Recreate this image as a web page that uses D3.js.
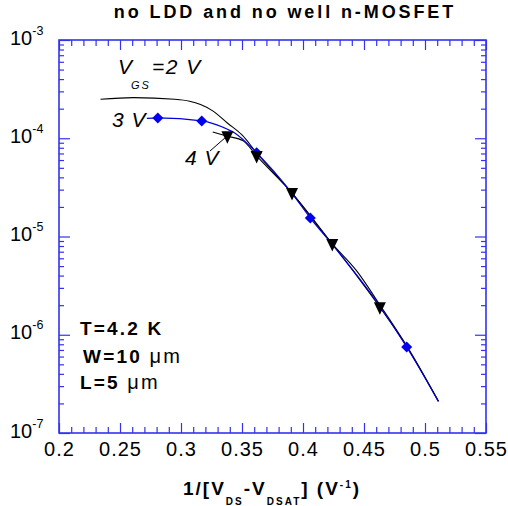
<!DOCTYPE html>
<html>
<head>
<meta charset="utf-8">
<script src="https://cdn.jsdelivr.net/npm/d3@7"></script>
<style>
  body { margin: 0; background: #fff; }
  text { font-family: "Liberation Sans", Arial, sans-serif; }
</style>
</head>
<body>
<div id="chart"></div>
<script>
// VGS = 2 V (black line, no markers)
const vgs2X = [0.234, 0.261, 0.295, 0.307, 0.316, 0.326, 0.338, 0.350, 0.362, 0.391, 0.424, 0.444, 0.463, 0.485, 0.511];
const vgs2Y = [2.49e-4, 2.59e-4, 2.49e-4, 2.38e-4, 2.20e-4, 1.90e-4, 1.43e-4, 1.08e-4, 7.1e-5, 2.77e-5, 8.4e-6, 4.46e-6, 2.01e-6, 7.7e-7, 2.1e-7];

// VGS = 3 V (blue line, diamonds)
const vgs3X = [0.272, 0.281, 0.317, 0.334, 0.344, 0.362, 0.391, 0.406, 0.424, 0.463, 0.485, 0.511];
const vgs3Y = [1.59e-4, 1.61e-4, 1.50e-4, 1.30e-4, 1.13e-4, 7.1e-5, 2.75e-5, 1.54e-5, 8.3e-6, 1.95e-6, 7.5e-7, 2.1e-7];
const vgs3MarkX = [0.281, 0.317, 0.362, 0.406, 0.485];
const vgs3MarkY = [1.61e-4, 1.50e-4, 7.1e-5, 1.54e-5, 7.5e-7];

// VGS = 4 V (black line, down triangles)
const vgs4X = [0.326, 0.338, 0.351, 0.362, 0.391, 0.424, 0.444, 0.463, 0.485, 0.511];
const vgs4Y = [1.16e-4, 1.05e-4, 9.4e-5, 6.6e-5, 2.77e-5, 8.4e-6, 4.0e-6, 1.91e-6, 7.6e-7, 2.1e-7];
const vgs4MarkX = [0.338, 0.362, 0.391, 0.424, 0.463];
const vgs4MarkY = [1.05e-4, 6.6e-5, 2.77e-5, 8.4e-6, 1.91e-6];

const xMajorTicks = [0.2, 0.25, 0.3, 0.35, 0.4, 0.45, 0.5, 0.55];
const xTickLabels = ["0.2", "0.25", "0.3", "0.35", "0.4", "0.45", "0.5", "0.55"];
const yDecades = [1e-3, 1e-4, 1e-5, 1e-6, 1e-7];
const yTickExps = ["-3", "-4", "-5", "-6", "-7"];

const W = 508, H = 506;
const margin = {top: 40, right: 22, bottom: 73, left: 59};
const width = W - margin.left - margin.right;
const height = H - margin.top - margin.bottom;
const axisColor = '#3333ee';

const svg = d3.select('#chart').append('svg')
    .attr('width', W)
    .attr('height', H);

const g = svg.append('g')
    .attr('transform', `translate(${margin.left},${margin.top})`);

const x = d3.scaleLinear().domain([0.2, 0.55]).range([0, width]);
const y = d3.scaleLog().domain([1e-7, 1e-3]).range([height, 0]);

const xMinor = d3.range(21, 55).map(d => d / 100).filter(d => Math.round(d * 100) % 5 !== 0);
const yMinor = [];
yDecades.slice(1).forEach(d => { for (let k = 2; k <= 9; k++) yMinor.push(d * k); });

function styleAxis(sel) {
    sel.select('.domain').remove();
    sel.selectAll('line').attr('stroke', axisColor).attr('stroke-width', 1.2);
}

// bottom axis
g.append('g')
    .attr('transform', `translate(0,${height})`)
    .call(d3.axisBottom(x).tickValues(xMajorTicks).tickSize(-10).tickSizeOuter(0).tickPadding(9)
        .tickFormat((d, i) => xTickLabels[i]))
    .call(styleAxis)
    .selectAll('text')
    .attr('fill', '#000')
    .style('font-size', '20px')
    .style('letter-spacing', '1px');

g.append('g')
    .attr('transform', `translate(0,${height})`)
    .call(d3.axisBottom(x).tickValues(xMinor).tickSize(-6).tickSizeOuter(0).tickFormat(''))
    .call(styleAxis);

// top axis
g.append('g')
    .call(d3.axisTop(x).tickValues(xMajorTicks).tickSize(-10).tickSizeOuter(0).tickFormat(''))
    .call(styleAxis);
g.append('g')
    .call(d3.axisTop(x).tickValues(xMinor).tickSize(-6).tickSizeOuter(0).tickFormat(''))
    .call(styleAxis);

// left / right axes
g.append('g')
    .call(d3.axisLeft(y).tickValues(yDecades).tickSize(-11).tickSizeOuter(0).tickFormat(''))
    .call(styleAxis);
g.append('g')
    .call(d3.axisLeft(y).tickValues(yMinor).tickSize(-5).tickSizeOuter(0).tickFormat(''))
    .call(styleAxis);
g.append('g')
    .attr('transform', `translate(${width},0)`)
    .call(d3.axisRight(y).tickValues(yDecades).tickSize(-11).tickSizeOuter(0).tickFormat(''))
    .call(styleAxis);
g.append('g')
    .attr('transform', `translate(${width},0)`)
    .call(d3.axisRight(y).tickValues(yMinor).tickSize(-5).tickSizeOuter(0).tickFormat(''))
    .call(styleAxis);

g.append('rect')
    .attr('width', width)
    .attr('height', height)
    .attr('fill', 'none')
    .attr('stroke', axisColor)
    .attr('stroke-width', 1.6);

// y tick labels 10^n
const yLab = svg.selectAll('.ylab')
    .data(yDecades)
    .enter().append('text')
    .attr('class', 'ylab')
    .attr('x', 10)
    .attr('y', d => margin.top + y(d) + 4.5)
    .style('font-size', '20px');
yLab.append('tspan').text('10');
yLab.append('tspan')
    .attr('dy', -10)
    .style('font-size', '12.5px')
    .text((d, i) => yTickExps[i]);

// curves
const line = d3.line()
    .x(d => x(d[0]))
    .y(d => y(d[1]))
    .curve(d3.curveMonotoneX);

const zip = (a, b) => a.map((v, i) => [v, b[i]]);

g.append('path')
    .datum(zip(vgs2X, vgs2Y))
    .attr('fill', 'none')
    .attr('stroke', '#000')
    .attr('stroke-width', 1.1)
    .attr('d', line);

g.append('path')
    .datum(zip(vgs4X, vgs4Y))
    .attr('fill', 'none')
    .attr('stroke', '#000')
    .attr('stroke-width', 1.1)
    .attr('d', line);

g.append('path')
    .datum(zip(vgs3X, vgs3Y))
    .attr('fill', 'none')
    .attr('stroke', '#0000dd')
    .attr('stroke-width', 1.2)
    .attr('d', line);

g.selectAll('.diamond')
    .data(zip(vgs3MarkX, vgs3MarkY))
    .enter().append('path')
    .attr('class', 'diamond')
    .attr('transform', d => `translate(${x(d[0])},${y(d[1])})`)
    .attr('d', 'M0,-5.5L5.5,0L0,5.5L-5.5,0Z')
    .attr('fill', '#0000ee');

g.selectAll('.tri')
    .data(zip(vgs4MarkX, vgs4MarkY))
    .enter().append('path')
    .attr('class', 'tri')
    .attr('transform', d => `translate(${x(d[0])},${y(d[1])})`)
    .attr('d', 'M-6,-5L6,-5L0,7.5Z')
    .attr('fill', '#000');

// annotations
svg.append('text')
    .attr('x', 118).attr('y', 74)
    .style('font-style', 'italic').style('font-size', '21px')
    .text('V');
svg.append('text')
    .attr('x', 131).attr('y', 89)
    .style('font-style', 'italic').style('font-size', '11px').style('letter-spacing', '2px')
    .text('GS');
svg.append('text')
    .attr('x', 152).attr('y', 74)
    .style('font-style', 'italic').style('font-size', '21px').style('letter-spacing', '1.5px')
    .text('=2 V');

svg.append('text')
    .attr('x', 112).attr('y', 127)
    .style('font-style', 'italic').style('font-size', '21px').style('letter-spacing', '1px')
    .text('3 V');

svg.append('text')
    .attr('x', 185).attr('y', 165)
    .style('font-style', 'italic').style('font-size', '21px').style('letter-spacing', '1px')
    .text('4 V');

svg.append('line')
    .attr('x1', 210).attr('y1', 151)
    .attr('x2', 226).attr('y2', 137)
    .attr('stroke', '#000')
    .attr('stroke-width', 1);

const params = ['T=4.2 K', 'W=10 ', 'L=5 '];
const paramX = [80, 83, 80];
const paramY = [335, 363, 389];
params.forEach((p, i) => {
    const t = svg.append('text')
        .attr('x', paramX[i]).attr('y', paramY[i])
        .style('font-weight', 'bold').style('font-size', '19px').style('letter-spacing', '2.2px');
    t.append('tspan').text(p);
    if (i > 0) t.append('tspan').style('font-weight', 'normal').style('font-size', '20px').text('\u03bcm');
});

// title
svg.append('text')
    .attr('x', 285).attr('y', 18)
    .attr('text-anchor', 'middle')
    .style('font-weight', 'bold')
    .style('font-size', '18px')
    .style('letter-spacing', '2.9px')
    .text('no LDD and no well n-MOSFET');

// x axis label
const xl = svg.append('text')
    .attr('x', 183).attr('y', 495)
    .style('font-weight', 'bold')
    .style('font-size', '19px')
    .style('letter-spacing', '2px');
xl.append('tspan').text('1/[V');
xl.append('tspan').attr('dy', 10).style('font-size', '10px').text('DS');
xl.append('tspan').attr('dy', -10).text('-V');
xl.append('tspan').attr('dy', 10).style('font-size', '10px').text('DSAT');
xl.append('tspan').attr('dy', -10).text('] (V');
xl.append('tspan').attr('dy', -7).style('font-size', '10px').text('-1');
xl.append('tspan').attr('dy', 7).text(')');
</script>
</body>
</html>
